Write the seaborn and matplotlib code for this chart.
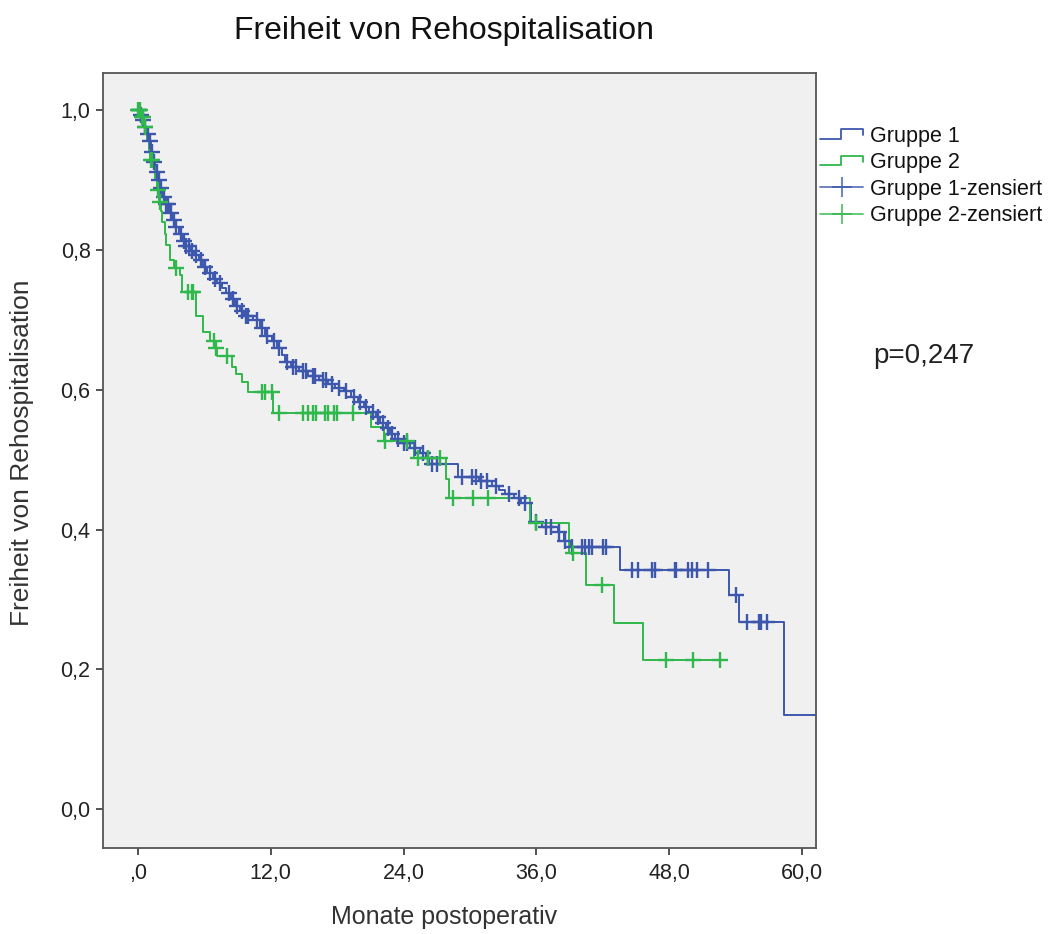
import numpy as np
import pandas as pd
import matplotlib
matplotlib.use("Agg")
import matplotlib.pyplot as plt
import seaborn as sns
from matplotlib.lines import Line2D
from matplotlib.legend_handler import HandlerBase

# ---------------- data ----------------
g1_event_t = [0.2, 0.4, 0.6, 0.8, 1.0, 1.2, 1.4, 1.6, 1.8, 2.0, 2.3, 2.5, 2.8, 3.1, 3.4,
              3.7, 4.0, 4.3, 4.7, 5.1, 5.5, 5.9, 6.3, 6.8, 7.2, 7.6, 8.0, 8.4, 8.8, 9.2,
              9.6, 10.4, 11.0, 11.5, 12.1, 12.6, 13.0, 13.3, 13.8, 14.6, 15.4, 16.4, 17.2,
              17.8, 18.6, 19.3, 19.9, 20.4, 20.9, 21.5, 21.9, 22.4, 22.8, 23.2, 23.8, 24.6,
              25.5, 26.0, 26.3, 28.9, 30.8, 32.0, 32.6, 33.2, 34.0, 34.6, 35.5, 36.5, 37.9,
              38.5, 39.0, 43.5, 53.4, 54.3, 58.3]
g1_surv = [0.993, 0.985, 0.975, 0.965, 0.955, 0.940, 0.925, 0.912, 0.900, 0.888, 0.875,
           0.865, 0.853, 0.842, 0.832, 0.822, 0.812, 0.805, 0.799, 0.793, 0.785, 0.775,
           0.767, 0.759, 0.752, 0.745, 0.738, 0.729, 0.720, 0.713, 0.706, 0.700, 0.688,
           0.677, 0.670, 0.660, 0.650, 0.640, 0.633, 0.627, 0.620, 0.614, 0.608, 0.602,
           0.598, 0.590, 0.582, 0.575, 0.568, 0.561, 0.553, 0.545, 0.537, 0.530, 0.524,
           0.517, 0.509, 0.502, 0.494, 0.475, 0.469, 0.463, 0.457, 0.451, 0.445, 0.438,
           0.411, 0.404, 0.397, 0.383, 0.3755, 0.342, 0.306, 0.268, 0.135]
g1_end = 61.6
g1_cens_t = [0.1, 0.3, 0.5, 0.7, 0.9, 1.1, 1.3, 1.5, 1.7, 1.9, 2.1, 2.4, 2.6, 2.7, 3.0,
             3.3, 3.5, 3.9, 4.2, 4.4, 4.6, 4.9, 5.3, 5.7, 6.1, 6.5, 7.0, 7.4, 8.2, 8.6,
             9.0, 9.4, 9.8, 10.0, 10.8, 11.2, 11.7, 12.3, 12.8, 13.5, 14.0, 14.3, 14.9,
             15.2, 15.8, 16.0, 16.7, 17.0, 17.5, 18.2, 18.8, 19.5, 20.1, 20.6, 21.2, 21.7,
             22.1, 22.6, 23.0, 23.5, 24.0, 24.3, 25.0, 25.8, 26.2, 26.6, 27.0, 29.3, 30.2,
             30.5, 31.0, 31.5, 32.3, 33.5, 34.4, 35.0, 36.0, 36.9, 37.3, 38.0, 38.6, 39.2,
             40.1, 40.4, 40.7, 41.0, 42.0, 42.3, 44.6, 45.2, 46.4, 46.7, 48.5, 48.6, 49.7,
             50.0, 50.5, 51.5, 54.0, 55.0, 56.1, 56.3, 56.8]

g2_event_t = [0.3, 0.6, 0.8, 1.0, 1.1, 1.4, 1.6, 1.7, 1.9, 2.1, 2.2, 2.5, 2.6, 2.9, 3.3,
              3.8, 4.0, 5.3, 5.9, 6.5, 7.0, 7.2, 8.5, 8.9, 9.4, 10.0, 12.2, 21.1, 22.2,
              24.9, 27.8, 28.1, 35.4, 38.9, 40.5, 43.0, 45.6]
g2_surv = [0.990, 0.975, 0.957, 0.940, 0.928, 0.919, 0.900, 0.886, 0.869, 0.855, 0.840,
           0.822, 0.807, 0.786, 0.774, 0.764, 0.740, 0.705, 0.683, 0.669, 0.659, 0.648,
           0.633, 0.623, 0.611, 0.597, 0.567, 0.547, 0.527, 0.503, 0.473, 0.445, 0.409,
           0.366, 0.321, 0.267, 0.2135]
g2_end = 53.0
g2_cens_t = [0.05, 0.15, 0.25, 0.4, 0.5, 0.7, 1.2, 1.3, 1.8, 2.0, 3.5, 4.5, 4.9, 5.0, 6.9,
             7.1, 8.1, 11.2, 11.5, 12.1, 12.8, 14.9, 15.4, 15.8, 16.1, 16.9, 17.2, 17.7,
             18.0, 19.4, 22.3, 24.3, 25.3, 26.2, 27.3, 28.5, 30.3, 31.6, 36.0, 39.3, 41.9,
             47.7, 50.1, 52.6]

x_ticks = [0, 12, 24, 36, 48, 60]
x_ticklabels = [",0", "12,0", "24,0", "36,0", "48,0", "60,0"]
y_ticks = [0.0, 0.2, 0.4, 0.6, 0.8, 1.0]
y_ticklabels = ["0,0", "0,2", "0,4", "0,6", "0,8", "1,0"]
group_labels = ["Gruppe 1", "Gruppe 2"]
cens_labels = ["Gruppe 1-zensiert", "Gruppe 2-zensiert"]
title = "Freiheit von Rehospitalisation"
xlabel = "Monate postoperativ"
ylabel = "Freiheit von Rehospitalisation"
p_text = "p=0,247"

c1 = "#3d57ad"
c2 = "#2fb84b"


def step_frame(event_t, surv, end_t):
    t = [0.0] + list(event_t) + [end_t]
    s = [1.0] + list(surv) + [surv[-1]]
    return pd.DataFrame({"t": t, "s": s})


def cens_frame(event_t, surv, cens_t):
    t_all = np.array([0.0] + list(event_t))
    s_all = np.array([1.0] + list(surv))
    idx = np.searchsorted(t_all, np.array(cens_t), side="right") - 1
    return pd.DataFrame({"t": cens_t, "s": s_all[idx]})


sns.set_theme(style="white")
plt.rcParams["font.family"] = ["Liberation Sans", "DejaVu Sans"]

fig = plt.figure(figsize=(10.54, 9.34), dpi=100)
fig.patch.set_facecolor("white")
ax = fig.add_axes([103 / 1054, 1 - 848 / 934, 713 / 1054, 775.3 / 934])
ax.set_facecolor("#f0f0f0")

for ev, sv, end, ce, col in [(g1_event_t, g1_surv, g1_end, g1_cens_t, c1),
                              (g2_event_t, g2_surv, g2_end, g2_cens_t, c2)]:
    df = step_frame(ev, sv, end)
    sns.lineplot(data=df, x="t", y="s", ax=ax, color=col, lw=1.4,
                 drawstyle="steps-post", estimator=None, sort=False, zorder=2)
    cf = cens_frame(ev, sv, ce)
    sns.scatterplot(data=cf, x="t", y="s", ax=ax, color=col, marker="+",
                    s=120, linewidth=1.7, zorder=3)

ax.set_xlim(-3.13, 61.23)
ax.set_ylim(-0.0553, 1.0533)
ax.set_xticks(x_ticks)
ax.set_xticklabels(x_ticklabels)
ax.set_yticks(y_ticks)
ax.set_yticklabels(y_ticklabels)
ax.tick_params(axis="both", direction="out", length=5, width=1.3, color="#444444",
               labelsize=15.5, labelcolor="#222222", pad=4, bottom=True, left=True)
ax.tick_params(axis="x", pad=6)
for sp in ax.spines.values():
    sp.set_color("#555555")
    sp.set_linewidth(1.3)

ax.set_xlabel(xlabel, fontsize=18, color="#333333")
ax.xaxis.set_label_coords((444.5 - 103) / 713, (848 - 917) / 775.3)
ax.xaxis.label.set_va("center")
ax.set_ylabel(ylabel, fontsize=19, color="#333333")
ax.yaxis.set_label_coords((22 - 103) / 713, (848 - 453) / 775.3)
ax.yaxis.label.set_va("center")

fig.suptitle(title, x=444 / 1054, y=1 - 31 / 934, va="center", fontsize=23,
             color="#111111")
fig.text(873 / 1054, 1 - 356 / 934, p_text, fontsize=20, color="#222222",
         va="center", ha="left")


class StepProxy(Line2D):
    pass


class StepHandler(HandlerBase):
    def create_artists(self, legend, orig_handle, xdescent, ydescent, width, height,
                       fontsize, trans):
        x0 = -xdescent
        y0 = -ydescent
        xs = [x0, x0 + 0.48 * width, x0 + 0.48 * width, x0 + width, x0 + width]
        ys = [y0 + 0.2 * height, y0 + 0.2 * height, y0 + 0.85 * height,
              y0 + 0.85 * height, y0 + 0.45 * height]
        ln = Line2D(xs, ys, color=orig_handle.get_color(), lw=1.3)
        ln.set_transform(trans)
        return [ln]


handles = [StepProxy([], [], color=c1), StepProxy([], [], color=c2),
           Line2D([], [], color=c1, lw=1.3, marker="+", ms=15, mew=1.3, alpha=0.8),
           Line2D([], [], color=c2, lw=1.3, marker="+", ms=15, mew=1.3, alpha=0.8)]
labels = group_labels + cens_labels
leg = fig.legend(handles, labels, handler_map={StepProxy: StepHandler()},
                 loc="upper left", bbox_to_anchor=(820 / 1054, 1 - 126 / 934),
                 bbox_transform=fig.transFigure, frameon=False, borderpad=0,
                 borderaxespad=0, fontsize=15.5, labelspacing=0.25,
                 handlelength=2.0, handletextpad=0.3, numpoints=1)
for t in leg.get_texts():
    t.set_color("#111111")

fig.savefig("out.png", dpi=100, facecolor="white")
